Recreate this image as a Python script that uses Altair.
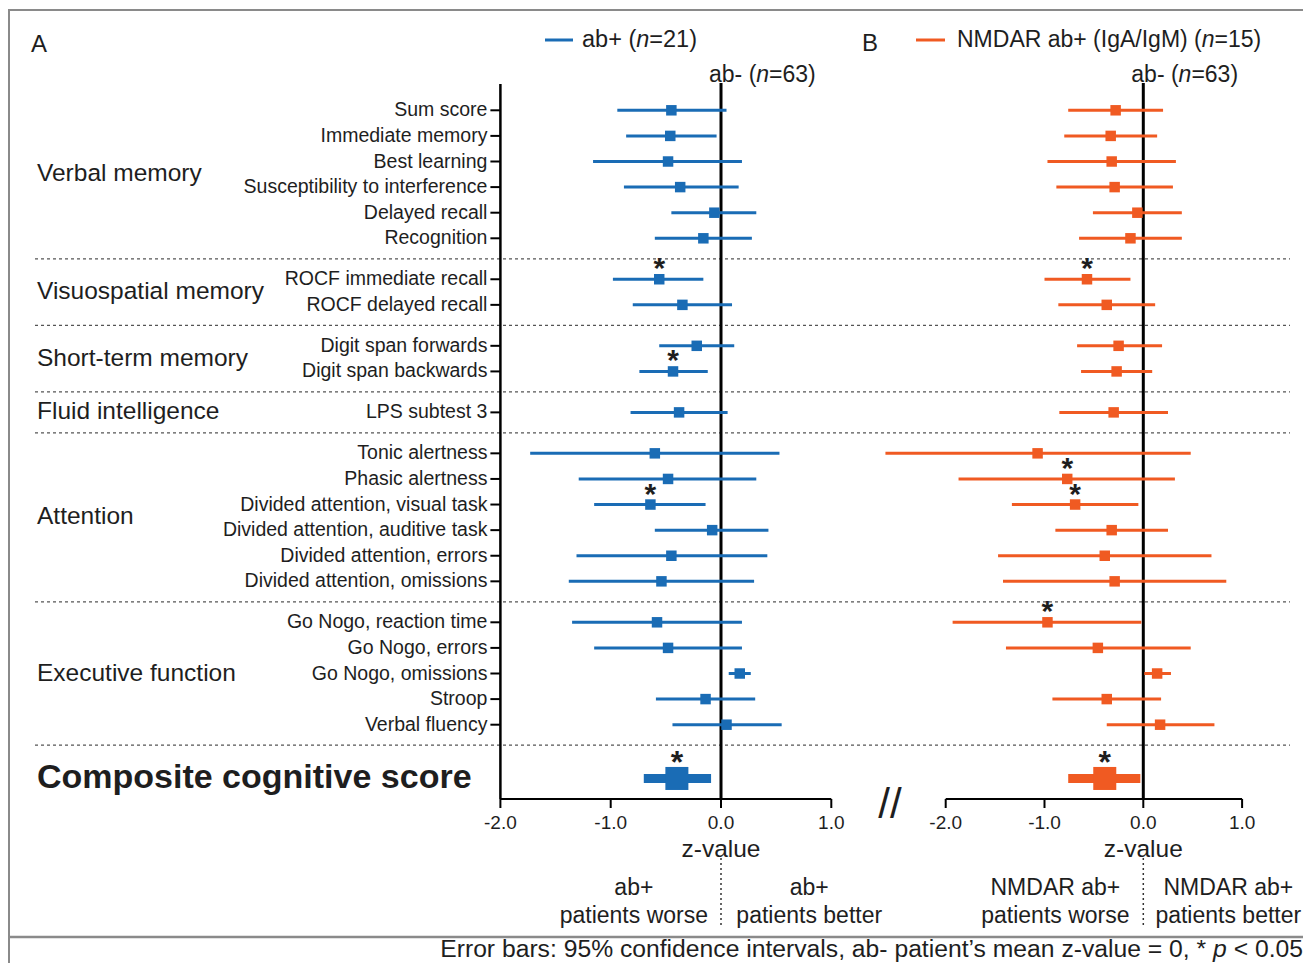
import altair as alt
import pandas as pd

BLUE = "#1a6cb5"
ORANGE = "#f05a22"
INK = "#1e1e1e"
FONT = "Liberation Sans"
W, H = 1295, 955

groups = ["Verbal memory", "Visuospatial memory", "Short-term memory",
          "Fluid intelligence", "Attention", "Executive function"]
tests = [
    ["Sum score", "Immediate memory", "Best learning", "Susceptibility to interference",
     "Delayed recall", "Recognition"],
    ["ROCF immediate recall", "ROCF delayed recall"],
    ["Digit span forwards", "Digit span backwards"],
    ["LPS subtest 3"],
    ["Tonic alertness", "Phasic alertness", "Divided attention, visual task",
     "Divided attention, auditive task", "Divided attention, errors", "Divided attention, omissions"],
    ["Go Nogo, reaction time", "Go Nogo, errors", "Go Nogo, omissions", "Stroop", "Verbal fluency"],
]
composite_label = "Composite cognitive score"

# Panel A: ab+ (n=21) -- tests in order, composite last
a_mean = [-0.45, -0.46, -0.48, -0.37, -0.06, -0.16, -0.56, -0.35, -0.22, -0.435, -0.38,
          -0.60, -0.48, -0.64, -0.08, -0.45, -0.54, -0.58, -0.48, 0.17, -0.14, 0.05, -0.40]
a_lo = [-0.94, -0.86, -1.16, -0.88, -0.45, -0.60, -0.98, -0.80, -0.56, -0.74, -0.82,
        -1.73, -1.29, -1.15, -0.60, -1.31, -1.38, -1.35, -1.15, 0.07, -0.59, -0.44, -0.70]
a_hi = [0.05, -0.04, 0.19, 0.16, 0.32, 0.28, -0.16, 0.10, 0.12, -0.12, 0.06,
        0.53, 0.32, -0.14, 0.43, 0.42, 0.30, 0.19, 0.19, 0.27, 0.31, 0.55, -0.09]
a_sig = [0, 0, 0, 0, 0, 0, 1, 0, 0, 1, 0, 0, 0, 1, 0, 0, 0, 0, 0, 0, 0, 0, 1]

# Panel B: NMDAR ab+ (IgA/IgM) (n=15)
b_mean = [-0.28, -0.33, -0.32, -0.29, -0.06, -0.13, -0.57, -0.37, -0.25, -0.27, -0.30,
          -1.07, -0.77, -0.69, -0.32, -0.39, -0.29, -0.97, -0.46, 0.14, -0.37, 0.17, -0.39]
b_lo = [-0.76, -0.80, -0.97, -0.88, -0.51, -0.65, -1.00, -0.86, -0.67, -0.63, -0.85,
        -2.61, -1.87, -1.33, -0.89, -1.47, -1.42, -1.93, -1.39, 0.01, -0.92, -0.37, -0.76]
b_hi = [0.20, 0.14, 0.33, 0.30, 0.39, 0.39, -0.13, 0.12, 0.19, 0.09, 0.25,
        0.48, 0.32, -0.05, 0.25, 0.69, 0.84, -0.02, 0.48, 0.28, 0.18, 0.72, -0.03]
b_sig = [0, 0, 0, 0, 0, 0, 1, 0, 0, 0, 0, 0, 1, 1, 0, 0, 0, 1, 0, 0, 0, 0, 1]

tick_values = [-2, -1, 0, 1]
tick_labels = ["-2.0", "-1.0", "0.0", "1.0"]

# ---- row layout (row units) derived from the group structure ----
labels, kinds, pos, seps, mids = [], [], [], [], []
p = 0.0
for gi, g in enumerate(tests):
    if gi > 0:
        seps.append(p - 1 + 0.8)
        p += 0.6
    start = p
    for t in g:
        labels.append(t)
        kinds.append("test")
        pos.append(p)
        p += 1
    mids.append((start + p - 1) / 2)
seps.append(p - 1 + 0.8)
labels.append(composite_label)
kinds.append("comp")
pos.append(p - 1 + 2.1)


def frame(mean, lo, hi, sig):
    return pd.DataFrame({"label": labels, "kind": kinds, "pos": pos,
                         "mean": mean, "lo": lo, "hi": hi, "sig": sig, "ax": -2})


dfA = frame(a_mean, a_lo, a_hi, a_sig)
dfB = frame(b_mean, b_lo, b_hi, b_sig)

ys = alt.Scale(domain=[-102.3 / 25.6, (H - 102.3) / 25.6], reverse=True, nice=False, zero=False)
xsA = alt.Scale(domain=[-713 / 110.3, (W - 713) / 110.3], nice=False, zero=False)
xsB = alt.Scale(domain=[-1135.3 / 98.8, (W - 1135.3) / 98.8], nice=False, zero=False)

TXT = dict(font=FONT, color=INK)


def panel(df, color, xs, worse_x, better_x, grp_word):
    X = lambda f: alt.X(f, type="quantitative", scale=xs, axis=None)
    Y = alt.Y("pos:Q", scale=ys, axis=None)
    t = df[df.kind == "test"]
    c = df[df.kind == "comp"]
    ticks = pd.DataFrame({"t": tick_values, "lab": tick_labels})
    zero = pd.DataFrame({"z": [0]})
    axl = pd.DataFrame({"a": [tick_values[0]], "b": [tick_values[-1]]})
    bottom = pd.DataFrame({"bx": [worse_x, better_x],
                           "l1": [grp_word, grp_word],
                           "l2": ["patients worse", "patients better"]})
    layers = [
        alt.Chart(zero).mark_rule(color="black", strokeWidth=3).encode(
            x=X("z"), y=alt.value(75), y2=alt.value(791)),
        alt.Chart(t).mark_rule(color=color, strokeWidth=3).encode(
            x=X("lo"), x2=alt.X2("hi"), y=Y),
        alt.Chart(t).mark_square(color=color, size=110, opacity=1).encode(x=X("mean"), y=Y),
        alt.Chart(c).mark_rule(color=color, strokeWidth=9, strokeCap="butt").encode(
            x=X("lo"), x2=alt.X2("hi"), y=Y),
        alt.Chart(c).mark_square(color=color, size=530, opacity=1).encode(x=X("mean"), y=Y),
        alt.Chart(t[t.sig == 1]).mark_text(text="*", fontSize=30, fontWeight="bold",
                                            baseline="alphabetic", dy=-1, **TXT).encode(x=X("mean"), y=Y),
        alt.Chart(c[c.sig == 1]).mark_text(text="*", fontSize=32, fontWeight="bold",
                                            baseline="alphabetic", dy=-5, **TXT).encode(x=X("mean"), y=Y),
        alt.Chart(axl).mark_rule(color="black", strokeWidth=2).encode(
            x=X("a"), x2=alt.X2("b"), y=alt.value(791)),
        alt.Chart(ticks).mark_rule(color="black", strokeWidth=2).encode(
            x=X("t"), y=alt.value(791), y2=alt.value(800)),
        alt.Chart(ticks).mark_text(fontSize=19, baseline="middle", **TXT).encode(
            x=X("t"), y=alt.value(815), text="lab:N"),
        alt.Chart(zero).mark_text(text="z-value", fontSize=24.5, baseline="middle", **TXT).encode(
            x=X("z"), y=alt.value(842)),
        alt.Chart(zero).mark_text(text="ab- (", fontSize=23, align="left", baseline="middle",
                                  dx=-12, **TXT).encode(x=X("z"), y=alt.value(67)),
        alt.Chart(zero).mark_text(text="n", fontSize=23, align="left", baseline="middle",
                                  fontStyle="italic", dx=-12 + 47.3, **TXT).encode(x=X("z"), y=alt.value(67)),
        alt.Chart(zero).mark_text(text="=63)", fontSize=23, align="left", baseline="middle",
                                  dx=-12 + 47.3 + 12.8, **TXT).encode(x=X("z"), y=alt.value(67)),
        alt.Chart(zero).mark_rule(color="#333", strokeWidth=1.5, strokeDash=[2, 3]).encode(
            x=X("z"), y=alt.value(850), y2=alt.value(917)),
        alt.Chart(bottom).mark_text(fontSize=23, baseline="middle", **TXT).encode(
            x=X("bx"), y=alt.value(880), text="l1:N"),
        alt.Chart(bottom).mark_text(fontSize=23, baseline="middle", **TXT).encode(
            x=X("bx"), y=alt.value(908), text="l2:N"),
    ]
    return layers, X, Y, t, c


layersA, XA, YA, tA, cA = panel(dfA, BLUE, xsA, -0.79, 0.80, "ab+")
layersB, XB, YB, tB, cB = panel(dfB, ORANGE, xsB, -0.89, 0.86, "NMDAR ab+")

sep_df = pd.DataFrame({"s": seps})
grp_df = pd.DataFrame({"group": groups, "mid": mids})
one = pd.DataFrame({"k": [0]})

FOOT_Y = 942
FS = 24.7

extraA = [
    alt.Chart(sep_df).mark_rule(color="#555", strokeWidth=1.3, strokeDash=[3, 3]).encode(
        x=alt.value(27), x2=alt.value(1282), y=alt.Y("s:Q", scale=ys, axis=None)),
    alt.Chart(pd.DataFrame({"a": [-2]})).mark_rule(color="black", strokeWidth=2.5).encode(
        x=XA("a"), y=alt.value(76), y2=alt.value(791)),
    alt.Chart(tA).mark_rule(color="black", strokeWidth=2, x2Offset=-10).encode(
        x=XA("ax"), x2=alt.X2("ax"), y=YA),
    alt.Chart(tA).mark_text(align="right", baseline="middle", dx=-13, fontSize=19.5, **TXT).encode(
        x=XA("ax"), y=YA, text="label:N"),
    alt.Chart(grp_df).mark_text(align="left", baseline="middle", fontSize=24.5, **TXT).encode(
        x=alt.value(29), y=alt.Y("mid:Q", scale=ys, axis=None), text="group:N"),
    alt.Chart(cA).mark_text(align="left", baseline="middle", fontSize=34, fontWeight="bold", **TXT).encode(
        x=alt.value(29), y=YA, text="label:N"),
    # frame
    alt.Chart(one).mark_rule(color="#8a8a8a", strokeWidth=2).encode(
        x=alt.value(0), x2=alt.value(W), y=alt.value(2)),
    alt.Chart(one).mark_rule(color="#8a8a8a", strokeWidth=2).encode(
        x=alt.value(1), y=alt.value(2), y2=alt.value(H)),
    alt.Chart(one).mark_rule(color="#8a8a8a", strokeWidth=2.5).encode(
        x=alt.value(0), x2=alt.value(W), y=alt.value(929)),
    # panel letters and legend
    alt.Chart(one).mark_text(text="A", align="left", baseline="middle", fontSize=24, **TXT).encode(
        x=alt.value(23), y=alt.value(37)),
    alt.Chart(one).mark_rule(color=BLUE, strokeWidth=3).encode(
        x=alt.value(537), x2=alt.value(565), y=alt.value(32)),
    alt.Chart(one).mark_text(text="ab+ (", align="left", baseline="middle", fontSize=23.5, **TXT).encode(
        x=alt.value(574), y=alt.value(32)),
    alt.Chart(one).mark_text(text="n", align="left", baseline="middle", fontSize=23.5,
                             fontStyle="italic", **TXT).encode(x=alt.value(628.2), y=alt.value(32)),
    alt.Chart(one).mark_text(text="=21)", align="left", baseline="middle", fontSize=23.5, **TXT).encode(
        x=alt.value(641.3), y=alt.value(32)),
    alt.Chart(one).mark_text(text="B", align="left", baseline="middle", fontSize=24, **TXT).encode(
        x=alt.value(854), y=alt.value(36)),
    alt.Chart(one).mark_rule(color=ORANGE, strokeWidth=3).encode(
        x=alt.value(908), x2=alt.value(937), y=alt.value(32)),
    alt.Chart(one).mark_text(text="NMDAR ab+ (IgA/IgM) (", align="left", baseline="middle",
                             fontSize=23, **TXT).encode(x=alt.value(949), y=alt.value(32)),
    alt.Chart(one).mark_text(text="n", align="left", baseline="middle", fontSize=23,
                             fontStyle="italic", **TXT).encode(x=alt.value(949 + 244.7), y=alt.value(32)),
    alt.Chart(one).mark_text(text="=15)", align="left", baseline="middle", fontSize=23, **TXT).encode(
        x=alt.value(949 + 244.7 + 12.8), y=alt.value(32)),
    # axis break
    alt.Chart(one).mark_text(text="//", baseline="middle", fontSize=42, **TXT).encode(
        x=alt.value(882), y=alt.value(797)),
    # footer (spaces at piece edges collapse in SVG, so gaps are explicit)
    alt.Chart(one).mark_text(text="< 0.05", align="right", baseline="middle", fontSize=FS, **TXT).encode(
        x=alt.value(1295), y=alt.value(FOOT_Y)),
    alt.Chart(one).mark_text(text="p", align="right", baseline="middle", fontSize=FS,
                             fontStyle="italic", **TXT).encode(
        x=alt.value(1295 - 2.808 * FS - 0.278 * FS), y=alt.value(FOOT_Y)),
    alt.Chart(one).mark_text(text="Error bars: 95% confidence intervals, ab- patient\u2019s mean z-value = 0, *",
                             align="right", baseline="middle", fontSize=FS, **TXT).encode(
        x=alt.value(1295 - 2.808 * FS - 0.278 * FS - 0.556 * FS - 0.278 * FS), y=alt.value(FOOT_Y)),
]

left = alt.layer(*(extraA + layersA))
right = alt.layer(*layersB)

chart = (
    alt.layer(left, right)
    .resolve_scale(x="independent")
    .properties(width=W, height=H, padding=0, autosize="none", background="white")
    .configure_view(stroke=None)
)

chart.save("out.html", embed_options={"renderer": "svg", "actions": False})
